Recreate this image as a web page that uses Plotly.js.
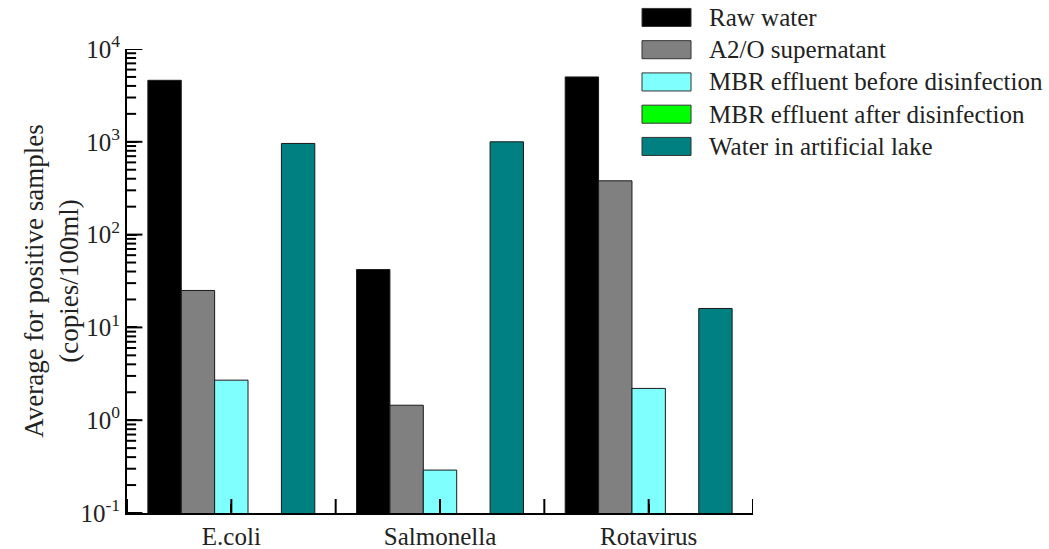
<!DOCTYPE html>
<html>
<head>
<meta charset="utf-8">
<script src="https://cdn.plot.ly/plotly-3.0.1.min.js"></script>
<style>html,body{margin:0;padding:0;background:#fff;}#chart{width:1049px;height:549px;}</style>
</head>
<body>
<div id="chart"></div>
<script>
// ---- data ----
const categories = ["E.coli", "Salmonella", "Rotavirus"];
const seriesNames = ["Raw water", "A2/O supernatant", "MBR effluent before disinfection", "MBR effluent after disinfection", "Water in artificial lake"];
const rawWater = [4600, 42, 5000];
const a2oSupernatant = [25, 1.45, 380];
const mbrBefore = [2.7, 0.29, 2.2];
const mbrAfter = [null, null, null];
const artificialLake = [960, 1000, 16];
const seriesColors = ["#000000", "#808080", "#80FFFF", "#00FF00", "#008080"];
const yTickVals = [0.1, 1, 10, 100, 1000, 10000];
const yTickText = ["10<sup>-1</sup>", "10<sup>0</sup>", "10<sup>1</sup>", "10<sup>2</sup>", "10<sup>3</sup>", "10<sup>4</sup>"];
// x tick positions (category centres and boundaries) on the helper linear axis
const xTickPositions = [-0.5, 0, 0.5, 1, 1.5, 2, 2.5];

const seriesValues = [rawWater, a2oSupernatant, mbrBefore, mbrAfter, artificialLake];
const FONT = "Liberation Serif, Times New Roman, serif";

// minor tick positions (2..9 within each decade)
const yMinorVals = [];
for (let e = -1; e < 4; e++) for (let m = 2; m <= 9; m++) yMinorVals.push(m * Math.pow(10, e));

const traces = seriesNames.map((name, i) => ({
  type: "bar", name: name, x: categories, y: seriesValues[i],
  marker: {color: seriesColors[i], line: {color: "#1a1a1a", width: 1}},
  showlegend: false
}));

// tick marks drawn as clipped line markers through the axes' own scales
traces.push({
  type: "scatter", mode: "markers", xaxis: "x2", yaxis: "y",
  x: yTickVals.map(() => -0.5), y: yTickVals,
  marker: {symbol: "line-ew", size: 22, color: "black", line: {color: "black", width: 2}},
  cliponaxis: true, showlegend: false, hoverinfo: "skip"
});
traces.push({
  type: "scatter", mode: "markers", xaxis: "x2", yaxis: "y",
  x: yMinorVals.map(() => -0.5), y: yMinorVals,
  marker: {symbol: "line-ew", size: 13, color: "black", line: {color: "black", width: 2}},
  cliponaxis: true, showlegend: false, hoverinfo: "skip"
});
traces.push({
  type: "scatter", mode: "markers", xaxis: "x2", yaxis: "y",
  x: xTickPositions, y: xTickPositions.map(() => yTickVals[0]),
  marker: {symbol: "line-ns", size: 20, color: "black", line: {color: "black", width: 2}},
  cliponaxis: true, showlegend: false, hoverinfo: "skip"
});

// custom legend (shapes + annotations) in paper coordinates
const shapes = [];
const annotations = [];
const rowTop = 1.068, rowStep = 0.0695, swH = 0.0389;
seriesNames.forEach((name, i) => {
  const yc = rowTop - i * rowStep;
  shapes.push({
    type: "rect", xref: "paper", yref: "paper",
    x0: 0.8227, x1: 0.901, y0: yc - swH / 2, y1: yc + swH / 2,
    fillcolor: seriesColors[i], line: {color: "#333333", width: 1}
  });
  annotations.push({
    xref: "paper", yref: "paper", x: 0.9265, y: yc,
    xanchor: "left", yanchor: "middle", showarrow: false,
    text: name
  });
});

const layout = {
  width: 1049, height: 549,
  margin: {l: 127, r: 296, t: 49, b: 36, pad: 0},
  font: {family: FONT, size: 25, color: "#222"},
  barmode: "group", bargap: 0.2, bargroupgap: 0,
  showlegend: false,
  xaxis: {
    type: "category", showline: true, linecolor: "black", linewidth: 2,
    ticks: "inside", ticklen: 9, tickwidth: 2, tickcolor: "black",
    showgrid: false, zeroline: false
  },
  xaxis2: {
    overlaying: "x", anchor: "y", side: "bottom", type: "linear",
    range: [-0.5, 2.5], showticklabels: false, ticks: "",
    showgrid: false, zeroline: false, showline: false
  },
  yaxis: {
    type: "log", range: [-1, 4], showline: true, linecolor: "black", linewidth: 2,
    ticks: "inside", ticklen: 10, tickwidth: 2, tickcolor: "black",
    tickvals: yTickVals, ticktext: yTickText,
    showgrid: false, zeroline: false,
    title: {text: "Average for positive samples<br>(copies/100ml)", font: {family: FONT, size: 27}}
  },
  shapes: shapes,
  annotations: annotations
};

Plotly.newPlot("chart", traces, layout, {displayModeBar: false});
</script>
</body>
</html>
